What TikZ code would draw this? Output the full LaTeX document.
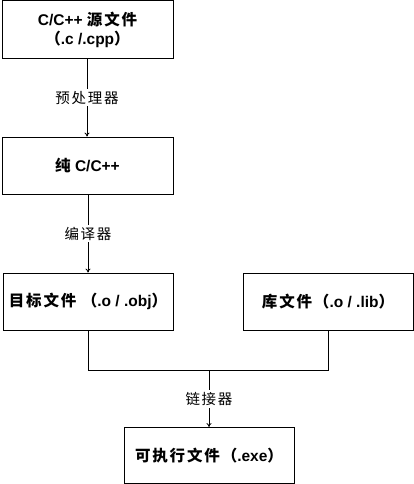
\documentclass[tikz,border=0pt]{standalone}
\usepackage{fontspec}
\setmainfont{Liberation Sans}
\newfontfamily\cjk[LetterSpace=12]{Noto Sans CJK SC}
\newcommand{\zhtxt}[1]{{\cjk #1}}
\usetikzlibrary{arrows.meta}
\tikzset{
  filebox/.style={draw, line width=0.8pt, minimum width=170pt, minimum height=57pt, inner sep=0pt, font=\fontsize{15.5}{19}\selectfont\bfseries, align=center},
  flow/.style={line width=0.8pt},
  flowarrow/.style={line width=0.8pt, -{To[length=4pt,width=5pt]}},
  toollabel/.style={fill=white, inner sep=2pt, font=\fontsize{14.5}{16}\selectfont}
}
\begin{document}
\begin{tikzpicture}[x=1pt,y=-1pt]
\useasboundingbox (0,0) rectangle (414,484);
\node[filebox, minimum width=171pt, minimum height=58pt] (src) at (87.5,29.5) {C/C++ \zhtxt{源文件}\\\zhtxt{（}.c /.cpp\zhtxt{）}};
\node[filebox, minimum width=171pt] (pure) at (87.5,165.5) {\zhtxt{纯} C/C++};
\node[filebox] (obj) at (88,301.5) {\zhtxt{目标文件 （}.o / .obj\zhtxt{）}};
\node[filebox] (lib) at (328,301.5) {\zhtxt{库文件（}.o / .lib\zhtxt{）}};
\node[filebox, minimum height=56pt] (exe) at (209,455.5) {\zhtxt{可执行文件（}.exe\zhtxt{）}};
\coordinate (merge) at (209,370.5);
\draw[flowarrow] (src.south -| 87,0) -- node[toollabel] {\zhtxt{预处理器}} (pure.north -| 87,0);
\draw[flowarrow] (pure.south -| 88,0) -- node[toollabel] {\zhtxt{编译器}} (obj.north -| 88,0);
\draw[flow] (obj.south) |- (merge) -| (lib.south);
\draw[flowarrow] (merge) -- node[toollabel] {\zhtxt{链接器}} (exe.north);
\end{tikzpicture}
\end{document}
